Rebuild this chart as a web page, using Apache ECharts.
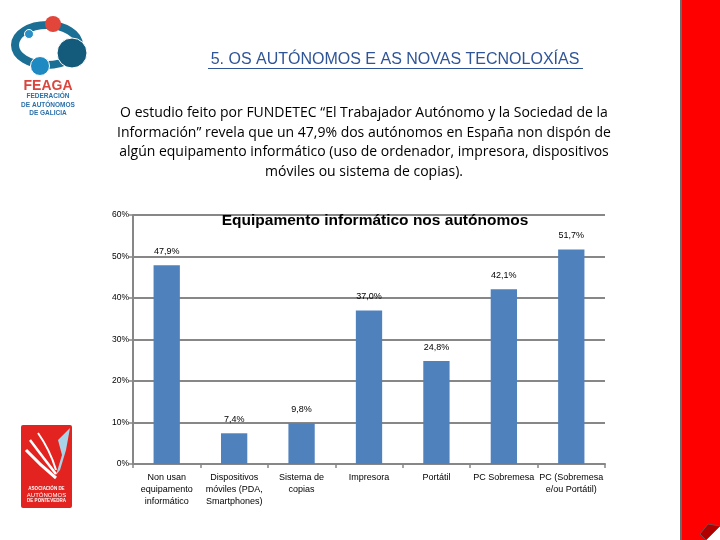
<!DOCTYPE html>
<html><head><meta charset="utf-8">
<script src="https://cdn.jsdelivr.net/npm/echarts@6/dist/echarts.min.js"></script>
<style>html,body{margin:0;padding:0;background:#fff}#c{width:720px;height:540px}</style>
</head><body><div id="c"></div>
<script>
var categories = ['Non usan\nequipamento\ninformático', 'Dispositivos\nmóviles (PDA,\nSmartphones)', 'Sistema de\ncopias', 'Impresora', 'Portátil', 'PC Sobremesa', 'PC (Sobremesa\ne/ou Portátil)'];
var values = [47.9, 7.4, 9.8, 37.0, 24.8, 42.1, 51.7];
var yTicks = [0, 10, 20, 30, 40, 50, 60];
var slideTitle = '5. OS AUTÓNOMOS E AS NOVAS TECNOLOXÍAS';
var paragraph = ['O estudio feito por FUNDETEC “El Trabajador Autónomo y la Sociedad de la',
  'Información” revela que un 47,9% dos autónomos en España non dispón de',
  'algún equipamento informático (uso de ordenador, impresora, dispositivos',
  'móviles ou sistema de copias).'];
var chartTitle = 'Equipamento informático nos autónomos';

var chart = echarts.init(document.getElementById('c'));
var gray = '#878787';
var graphics = [
  // right red band
  {type:'rect', shape:{x:681,y:-2,width:42,height:544}, style:{fill:'#ff0000', stroke:'#6b6b6b', lineWidth:2}},
  {type:'polygon', shape:{points:[[706,540],[720,526],[720,540]]}, style:{fill:'#ffffff'}},
  {type:'polygon', shape:{points:[[700,534],[708,524],[720,526],[706,540]]}, style:{fill:'#b00000', stroke:'#7a4a4a', lineWidth:1}},
  // slide title
  {type:'text', style:{text:slideTitle, x:395, y:60, align:'center', verticalAlign:'middle', fill:'#2f5597', font:'16px "Liberation Sans"'}},
  {type:'line', shape:{x1:208,y1:68.5,x2:583,y2:68.5}, style:{stroke:'#2f5597', lineWidth:1}},
  // FEAGA logo
  {type:'ellipse', shape:{cx:47,cy:45,rx:32,ry:20}, style:{fill:'none', stroke:'#1c6f94', lineWidth:8}},
  {type:'circle', shape:{cx:53,cy:24,r:8}, style:{fill:'#e2463b'}},
  {type:'circle', shape:{cx:72,cy:53,r:15}, style:{fill:'#145a7a', stroke:'#ffffff', lineWidth:1}},
  {type:'circle', shape:{cx:29,cy:34,r:4.5}, style:{fill:'#2a90c6', stroke:'#ffffff', lineWidth:1}},
  {type:'circle', shape:{cx:40,cy:66,r:9.5}, style:{fill:'#1f8ac2', stroke:'#ffffff', lineWidth:1}},
  {type:'text', style:{text:'FEAGA', x:48, y:86, align:'center', verticalAlign:'middle', fill:'#d9463e', font:'bold 14px "Liberation Sans"'}},
  {type:'text', style:{text:'FEDERACIÓN\nDE AUTÓNOMOS\nDE GALICIA', x:48, y:105, align:'center', verticalAlign:'middle', fill:'#2a70aa', font:'bold 6.5px "Liberation Sans"', lineHeight:8.5}},
  // Pontevedra logo
  {type:'rect', shape:{x:21,y:425,width:51,height:83,r:2}, style:{fill:'#e3231f'}},
  {type:'polygon', shape:{points:[[58,440],[70,428],[66,450],[60,470],[56,475],[62,455]]}, style:{fill:'#a9d3e6'}},
  {type:'bezierCurve', shape:{x1:26,y1:450,cpx1:40,cpy1:465,x2:56,y2:478}, style:{stroke:'#ffffff', lineWidth:3, fill:'none'}},
  {type:'bezierCurve', shape:{x1:30,y1:440,cpx1:45,cpy1:460,x2:56,y2:474}, style:{stroke:'#ffffff', lineWidth:2.5, fill:'none'}},
  {type:'bezierCurve', shape:{x1:38,y1:433,cpx1:50,cpy1:450,x2:56,y2:470}, style:{stroke:'#ffffff', lineWidth:2, fill:'none'}},
  {type:'text', style:{text:'ASOCIACIÓN DE', x:46.5, y:489, align:'center', verticalAlign:'middle', fill:'#ffffff', font:'bold 4.5px "Liberation Sans"'}},
  {type:'text', style:{text:'AUTÓNOMOS', x:46.5, y:495, align:'center', verticalAlign:'middle', fill:'#ffffff', font:'6px "Liberation Sans"'}},
  {type:'text', style:{text:'DE PONTEVEDRA', x:46.5, y:501, align:'center', verticalAlign:'middle', fill:'#ffffff', font:'bold 4.5px "Liberation Sans"'}}
];
paragraph.forEach(function(line, i){
  graphics.push({type:'text', style:{text:line, x:364, y:113 + i*19.7, align:'center', verticalAlign:'middle', fill:'#000000', font:'14px "Open Sans"'}});
});

chart.setOption({
  animation:false,
  title:{text:chartTitle, left:370, top:208, textAlign:'center', textStyle:{fontSize:15.5, fontWeight:'bold', color:'#000', fontFamily:'Liberation Sans'}},
  grid:{left:133, right:115, top:215, bottom:76, containLabel:false},
  xAxis:{type:'category', data:categories,
    axisLine:{lineStyle:{color:gray, width:2}},
    axisTick:{show:true, length:4, lineStyle:{color:gray, width:1.5}},
    axisLabel:{interval:0, color:'#000', fontSize:9, fontFamily:'Liberation Sans', lineHeight:12, margin:8}
  },
  yAxis:{type:'value', min:yTicks[0], max:yTicks[yTicks.length-1], interval:10,
    axisLine:{show:true, lineStyle:{color:gray, width:2}},
    axisTick:{show:true, length:4, lineStyle:{color:gray, width:1.5}},
    axisLabel:{formatter:'{value}%', color:'#000', fontSize:8.5, fontFamily:'Liberation Sans', margin:4},
    splitLine:{lineStyle:{color:gray, width:2}}
  },
  series:[{type:'bar', data:values, barWidth:'39%', itemStyle:{color:'#4f81bd'},
    label:{show:true, position:'top', distance:9, color:'#000', fontSize:9, fontFamily:'Liberation Sans',
      formatter:function(p){return p.value.toFixed(1).replace('.', ',') + '%';}}
  }],
  graphic:graphics
});
</script></body></html>
